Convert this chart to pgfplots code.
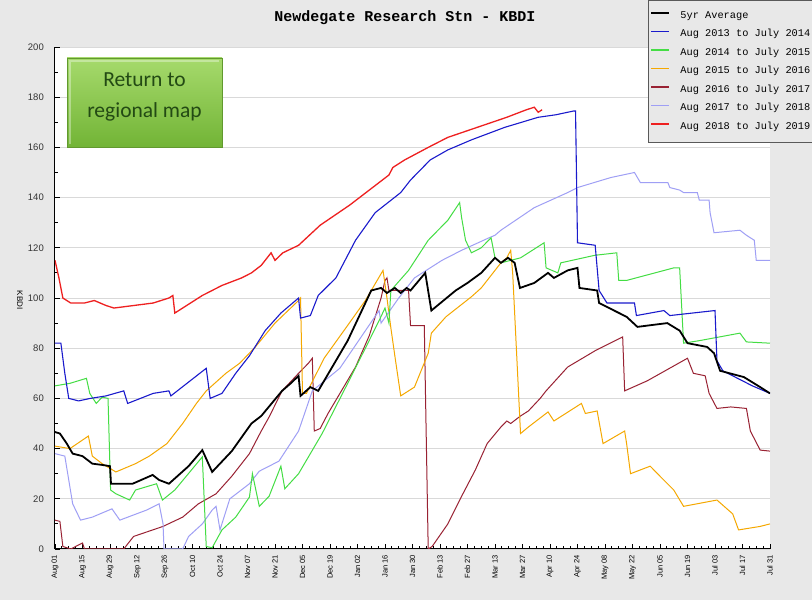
\documentclass[border=0pt]{standalone}
\usepackage{pgfplots}
\pgfplotsset{compat=1.18}
\usepackage{fontspec}
\setmainfont{Liberation Sans}
\newfontfamily\monofont{Liberation Mono}
\newfontfamily\btnfont{Carlito}

\definecolor{bgc}{HTML}{E8E8E8}
\definecolor{c13}{HTML}{1A1ACC}
\definecolor{c14}{HTML}{44DD44}
\definecolor{c15}{HTML}{F5A800}
\definecolor{c16}{HTML}{992233}
\definecolor{c17}{HTML}{9F9FF5}
\definecolor{c18}{HTML}{EE2020}
\definecolor{btntop}{HTML}{A6DA6C}
\definecolor{btnbot}{HTML}{72B436}
\definecolor{btntxt}{HTML}{234A14}

\begin{document}
\begin{tikzpicture}[x=1pt,y=1pt]
\path[use as bounding box] (0,0) rectangle (812,600);
\clip (0,0) rectangle (812,600);
\fill[bgc] (0,0) rectangle (812,600);
\node[font=\monofont\bfseries\fontsize{15}{17}\selectfont] at (405,582) {Newdegate Research Stn - KBDI};

\begin{axis}[
  at={(55pt,51pt)}, anchor=south west,
  scale only axis, width=715pt, height=502pt,
  xmin=0, xmax=364, ymin=0, ymax=200,
  axis background/.style={fill=white},
  axis x line*=bottom, axis y line*=left,
  axis line style={black, line width=1pt, -},
  ytick={0,20,...,200}, minor y tick num=1,
  xtick={0,14,...,364}, minor x tick num=3,
  xticklabels={Aug 01,Aug 15,Aug 29,Sep 12,Sep 26,Oct 10,Oct 24,Nov 07,Nov 21,Dec 05,Dec 19,Jan 02,Jan 16,Jan 30,Feb 13,Feb 27,Mar 13,Mar 27,Apr 10,Apr 24,May 08,May 22,Jun 05,Jun 19,Jul 03,Jul 17,Jul 31},
  x tick label style={rotate=90, anchor=east, font=\fontsize{7.5}{8}\selectfont, inner sep=6pt},
  y tick label style={font=\fontsize{9.5}{10}\selectfont, inner sep=11pt, text=black!80},
  /pgf/number format/assume math mode=true,
  tick align=inside, major tick length=5pt, minor tick length=3pt,
  tick style={black, line width=0.8pt},
  ymajorgrids, grid style={black!15, line width=0.8pt},
  ylabel={KBDI},
  ylabel style={at={(axis description cs:-0.049,0.496)}, anchor=center, rotate=180, font=\fontsize{8}{9}\selectfont},
  legend style={at={(0.8294,1.0936)}, anchor=north west, fill=bgc, draw=black!65, line width=0.9pt,
    font=\monofont\fontsize{10.3}{11}\selectfont, row sep=9.5pt, column sep=10pt,
    inner xsep=2pt, inner ysep=11pt,
    nodes={inner sep=0pt, text height=7pt, text depth=2pt, anchor=west}},
  legend cell align=left,
  legend image code/.code={\draw[#1] (0pt,3pt) -- (18pt,3pt);},
]
\addlegendimage{black, line width=2pt}
\addlegendentry{5yr Average}
\addlegendimage{c13, line width=1.5pt}
\addlegendentry{Aug 2013 to July 2014}
\addlegendimage{c14, line width=1.5pt}
\addlegendentry{Aug 2014 to July 2015}
\addlegendimage{c15, line width=1.5pt}
\addlegendentry{Aug 2015 to July 2016}
\addlegendimage{c16, line width=1.5pt}
\addlegendentry{Aug 2016 to July 2017}
\addlegendimage{c17, line width=1.5pt}
\addlegendentry{Aug 2017 to July 2018}
\addlegendimage{c18, line width=1.5pt}
\addlegendentry{Aug 2018 to July 2019}

% Aug 2016 to July 2017
\addplot[c16, line width=1pt, forget plot] coordinates {
(0,11.5)(2.5,11)(4,1)(8,0)(14,2.4)(15,0)(35,0)(40,5)(55,9)(65,12.7)(73,18)(82,22)(90,29)(99,38)(105,47)(109,52.6)(115.6,63)(124,70)(129,74)(131,76)(132,47)(135,48)(139,54)(153,72.5)(160,85)(166,100)(168,107)(169,108)(170,103)(180,103)(181,89)(188,89)(190,0)(192,1)(200,10)(207,21)(214,31.5)(220,42)(227,48.6)(230,51)(232,50)(237,53)(241,55)(247,60)(250,63)(261,72.5)(275,79)(289,84.5)(290,63)(301.5,67)(322,76)(325,70)(331,69)(333,62)(337,56)(344,56.6)(352,56)(354,47)(359,39.4)(364,39)
};
% Aug 2015 to July 2016
\addplot[c15, line width=1pt, forget plot] coordinates {
(0,41)(7.6,40)(17,45)(19,37)(24,34)(31,30.7)(41,34)(48,37)(57,42)(65,50)(72,58)(77,63)(87,70)(94,74)(102,80.5)(112,90)(124,99)(125,100)(126,62)(128,62)(137,76)(148,88)(158,99)(167,111)(169,100)(171,88)(173,77)(176,61)(183,64.5)(190,78)(191.6,86)(199,92.5)(212,100.5)(217,104)(227,114)(230,116)(232,119)(233,110)(235,78)(237,46)(241,48.6)(251,54.6)(254,51)(268,58)(270,54)(276,55)(279,42)(290,47)(291,42)(293,30)(303,33)(308,29)(315,23.5)(320,17)(337,19.5)(345,14)(348,7.6)(359,9)(364,10)
};
% Aug 2017 to July 2018
\addplot[c17, line width=1pt, forget plot] coordinates {
(0,38)(5,37)(9,18)(13,11.5)(19,12.7)(29,16)(33,11.5)(46.6,15.5)(53,18)(55,10)(55.5,0)(65,0)(68,5)(75,10)(80,15.5)(82,17)(84,7.6)(89,20)(99,26)(104,31)(114,35)(124,47)(131,63)(145,72)(165,95)(166,90)(175,100)(183,108)(197,115)(207,119)(221,124)(224,125)(227,127)(244,136)(261,142)(266,144)(283,148)(295,150)(298,146)(305,146)(312,146)(313,144)(318,143)(320,142)(327,142)(328,139)(333,139)(333.5,134)(335.5,126)(348.7,127)(352,125)(356,123)(357,115)(364,115)
};
% Aug 2014 to July 2015
\addplot[c14, line width=1pt, forget plot] coordinates {
(0,65)(7.6,66)(16,68)(17.7,62)(21,58)(24,60.5)(27,60)(28.3,23.5)(31,22)(38,19.5)(41,23.5)(51.7,26)(54.7,19.5)(61,23.5)(75,36.7)(77,1)(80,0.5)(85,7.6)(92,12.7)(99,20.7)(100.5,30)(104,17)(109,21)(115,33)(117,24)(124,30)(136,46)(149,66)(158,80)(165,91)(168,96)(170,90)(171,103)(180,111)(190,123)(200,131)(206,138)(207,132)(209,123)(212,118)(217,120)(222,124)(224,116)(227,114)(237,116)(249,122)(250,112)(256,110)(257.5,114)(274.7,117)(286,118)(287,107)(291,107)(315,112)(318,112)(320,82)(328,83)(348.7,86)(352,82.5)(364,82)
};
% Aug 2013 to July 2014
\addplot[c13, line width=1.1pt, forget plot] coordinates {
(0,82)(3,82)(5,70)(7,60)(12,59)(18,60)(26,61)(35,63)(37,58)(50,62)(58,63)(59,61)(77,72)(79,60)(85,62)(92,70)(99,77)(107,87)(115,94)(124,100)(125,92)(130,93)(134,101)(143,108)(153,123)(163,134)(176,142)(181,147)(191,155)(200,159)(212,163)(229,168)(246,172)(255,173)(264,174.5)(265,174.5)(266,122)(275,121)(277,103)(281,98)(295,98)(296,93)(310,95)(313,93)(336,95)(337,75)(340,71)(355,65)(364,62)
};
% Aug 2018 to July 2019
\addplot[c18, line width=1.3pt, forget plot] coordinates {
(0,115)(2,108)(4,100)(8,98)(15,98)(20,99)(26,97)(30,96)(40,97)(50,98)(58,100)(60,101)(61,94)(65,96)(75,101)(85,105)(95,108)(100,110)(105,113)(108,116)(110,118)(112,115)(116,118)(124,121)(135,129)(150,137)(160,143)(170,149)(172,152)(178,155)(190,160)(200,164)(215,168)(230,172)(240,175)(244,176)(246,174)(248,175)
};
% 5yr Average
\addplot[black, line width=1.8pt, forget plot] coordinates {
(0,46.6)(2.5,46)(6,42)(9,38)(14,37)(19,34)(24,33.5)(28,33)(28.5,26)(39.5,26)(49.7,29.5)(53,27.5)(58,26)(68,33)(75,39.4)(80,30.7)(90,39)(100,50)(105,53)(115.6,63)(120,66)(124,69)(125,61)(130,64.5)(134,63)(149,83)(161,103)(166,104)(169,102)(173,104)(176,102)(179,104)(181,103)(188.5,110)(191.6,95)(204,103)(210,106)(217,110)(224,116)(227,114)(230.6,116)(234,114)(236.7,104)(244,106)(251,110)(254,108)(261,111)(266,112)(267,104)(276,103)(277,98)(291,92.5)(296.5,88.5)(311.7,90)(318,87)(322,82)(332,80.5)(335.5,78)(338.6,71)(350.7,68.5)(359,64.5)(364,62)
};
\end{axis}

% button
\shade[top color=btntop, bottom color=btnbot, draw=btnbot!85!black, line width=0.6pt] (67,453) rectangle (222,542);
\draw[white, opacity=0.35, line width=2pt] (70,456) -- (70,539) -- (219,539);
\node[text=btntxt, font=\btnfont\fontsize{21.5}{31}\selectfont, align=center] at (144.5,503) {Return to\\regional map};
\end{tikzpicture}
\end{document}
